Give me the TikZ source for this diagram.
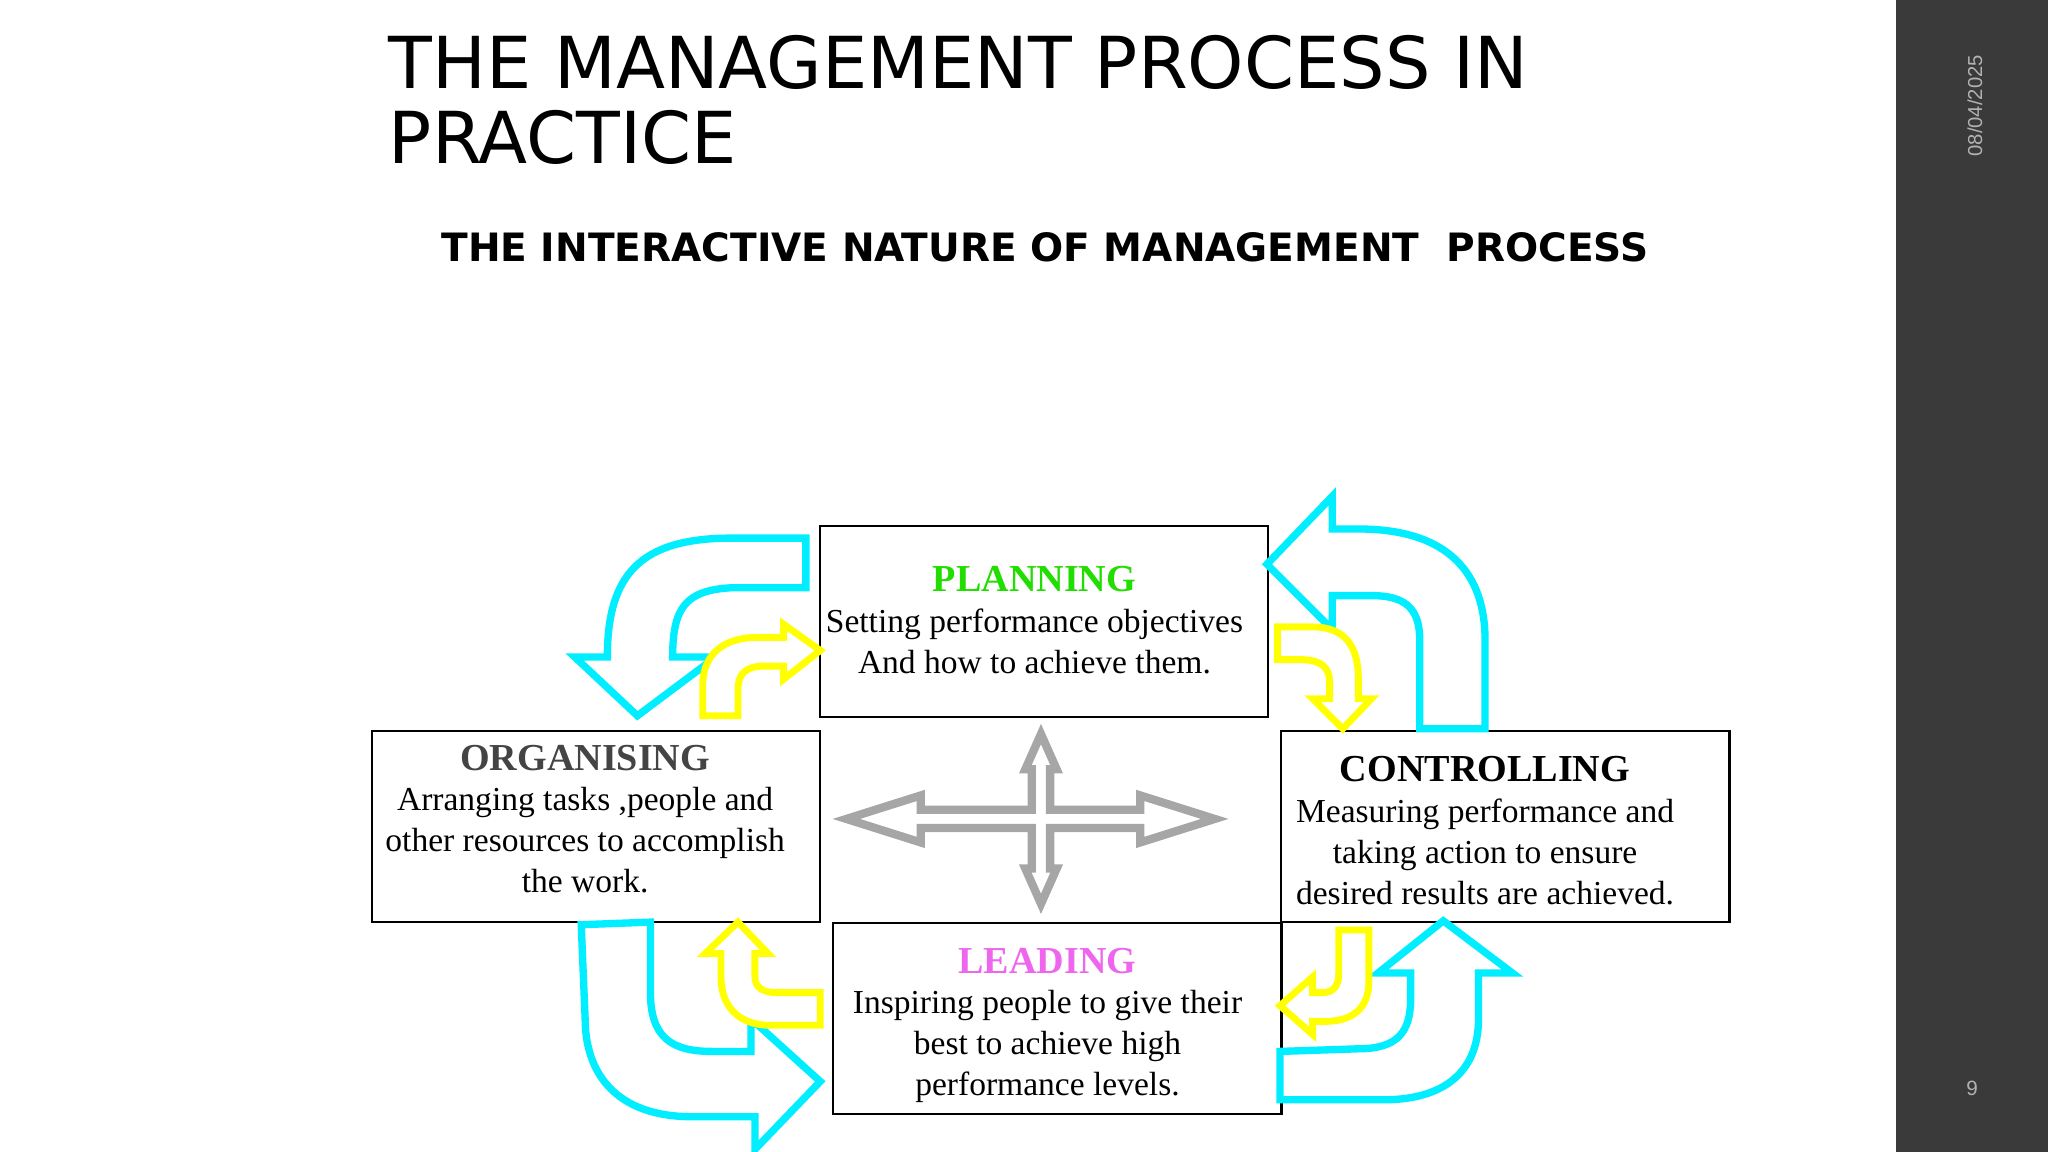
\documentclass[tikz,border=0pt]{standalone}
\usepackage{fontspec}
\setmainfont{Liberation Serif}
\newfontfamily\titlefont{DejaVu Sans}
\newfontfamily\datefont{Liberation Sans}
\definecolor{cy}{HTML}{00EEFF}
\definecolor{ye}{HTML}{FFFF00}
\definecolor{bar}{HTML}{3A3A3A}
\definecolor{plan}{HTML}{22DD00}
\definecolor{lead}{HTML}{EE66EE}
\definecolor{org}{HTML}{444444}
\tikzset{
  box/.style={draw=black,line width=0.5pt,minimum width=3.43cm,minimum height=1.46cm,anchor=north west},
  cyarrow/.style={draw=cy,line width=1.6pt,line join=miter,fill=white},
  yearrow/.style={draw=ye,line width=1.5pt,line join=miter,fill=white},
  grarrow/.style={draw=gray!70,line width=1.8pt,fill=white,line join=miter},
  btxt/.style={align=center,font=\fontsize{7.3}{8.9}\selectfont}
}
\begin{document}
\begin{tikzpicture}[x=0.01cm,y=-0.01cm]
\useasboundingbox (0,0) rectangle (1568,882);
\fill[bar] (1452,0) rectangle (1568,882);
\node[rotate=90,text=gray!60,font=\datefont\fontsize{4.4}{5}\selectfont] (date) at (1512,81) {08/04/2025};
\node[text=gray!60,font=\datefont\fontsize{4.5}{5}\selectfont] (pg) at (1510,833) {9};
\node[anchor=north west,align=left,inner sep=0pt,font=\titlefont\fontsize{15.6}{16.5}\selectfont] (title) at (297,26) {THE MANAGEMENT PROCESS IN\\PRACTICE};
\node[font=\titlefont\bfseries\fontsize{8.5}{10}\selectfont] (sub) at (800,189) {THE INTERACTIVE NATURE OF MANAGEMENT\ \ PROCESS};

% boxes
\node[box] (plan) at (627,402) {};
\node[box] (orgb) at (284,559) {};
\node[box] (ctrl) at (980,559) {};
\node[box] (lead) at (637,706) {};
\node[btxt] (plant) at (792,475) {{\fontsize{8.3}{9}\selectfont\bfseries\color{plan}PLANNING}\\Setting performance objectives\\And how to achieve them.};
\node[btxt] (orgt) at (448,627) {{\fontsize{8.3}{9}\selectfont\bfseries\color{org}ORGANISING}\\Arranging tasks ,people and\\other resources to accomplish\\the work.};
\node[btxt] (ctrlt) at (1137,636) {{\fontsize{8.3}{9}\selectfont\bfseries CONTROLLING}\\Measuring performance and\\taking action to ensure\\desired results are achieved.};
\node[btxt] (leadt) at (802,785) {{\fontsize{8.3}{9}\selectfont\bfseries\color{lead}LEADING}\\Inspiring people to give their\\best to achieve high\\performance levels.};

% centre gray arrows
\draw[grarrow] (648,627) -- (705,609) -- (705,620) -- (790,620) -- (790,589) -- (785,589) -- (797,562) -- (809,589) -- (804,589) -- (804,620) -- (873,620) -- (873,609) -- (930,627) -- (873,645) -- (873,634) -- (804,634) -- (804,665) -- (809,665) -- (797,692) -- (785,665) -- (790,665) -- (790,634) -- (705,634) -- (705,645) -- cycle;

% cyan arrows
\draw[cyarrow] (617,412) -- (560,412) .. controls (490,412) and (465,440) .. (465,503) -- (440,503) -- (488,548) -- (548,503) -- (515,503) .. controls (515,465) and (525,452) .. (560,450) -- (617,450) -- cycle;
\draw[cyarrow] (970,432) -- (1020,380) -- (1020,405) -- (1040,405) .. controls (1110,405) and (1137,440) .. (1137,490) -- (1137,558) -- (1087,558) -- (1087,490) .. controls (1087,465) and (1075,456) .. (1050,456) -- (1020,456) -- (1020,482) -- cycle;
\draw[cyarrow] (445,708) -- (498,706) -- (498,760) .. controls (498,795) and (515,805) .. (545,805) -- (575,805) -- (575,780) -- (628,828) -- (578,880) -- (578,855) -- (530,855) .. controls (470,855) and (448,820) .. (448,780) -- cycle;
\draw[cyarrow] (1105,705) -- (1158,745) -- (1132,745) -- (1132,780) .. controls (1132,825) and (1100,842) .. (1060,842) -- (980,842) -- (980,805) -- (1040,803) .. controls (1070,803) and (1080,790) .. (1080,765) -- (1080,745) -- (1055,745) -- cycle;

% yellow arrows
\draw[yearrow] (628,498) -- (600,478) -- (600,488) -- (580,488) .. controls (555,488) and (538,500) .. (538,525) -- (538,548) -- (565,548) -- (565,528) .. controls (565,515) and (572,510) .. (585,510) -- (600,510) -- (600,520) -- cycle;
\draw[yearrow] (978,480) -- (1005,480) .. controls (1030,480) and (1040,495) .. (1040,520) -- (1040,535) -- (1050,535) -- (1028,558) -- (1005,535) -- (1018,535) -- (1018,522) .. controls (1018,510) and (1010,505) .. (995,505) -- (978,505) -- cycle;
\draw[yearrow] (565,706) -- (588,730) -- (578,730) -- (578,748) .. controls (578,756) and (584,760) .. (595,760) -- (628,760) -- (628,785) -- (590,785) .. controls (565,785) and (552,770) .. (552,748) -- (552,730) -- (540,730) -- cycle;
\draw[yearrow] (1025,712) -- (1048,712) -- (1048,752) .. controls (1048,772) and (1035,782) .. (1015,782) -- (1005,782) -- (1005,792) -- (980,770) -- (1005,748) -- (1005,760) -- (1012,760) .. controls (1020,760) and (1025,756) .. (1025,745) -- cycle;
\end{tikzpicture}
\end{document}
